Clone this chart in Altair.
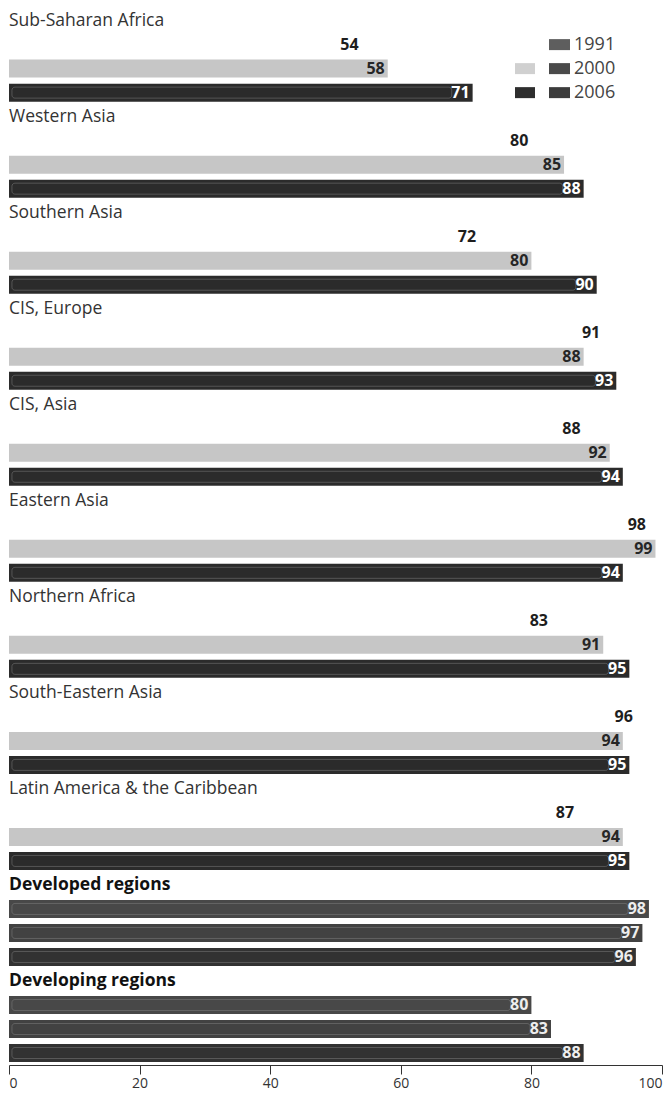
import altair as alt
import pandas as pd

# ---------------- data ----------------
regions = [
    "Sub-Saharan Africa", "Western Asia", "Southern Asia", "CIS, Europe",
    "CIS, Asia", "Eastern Asia", "Northern Africa", "South-Eastern Asia",
    "Latin America & the Caribbean", "Developed regions", "Developing regions",
]
years = ["1991", "2000", "2006"]
v1991 = [54, 80, 72, 91, 88, 98, 83, 96, 87, 98, 80]
v2000 = [58, 85, 80, 88, 92, 99, 91, 94, 94, 97, 83]
v2006 = [71, 88, 90, 93, 94, 94, 95, 95, 95, 96, 88]
aggregate_groups = ["Developed regions", "Developing regions"]
axis_ticks = [0, 20, 40, 60, 80, 100]

# ---------------- tables ----------------
values_by_year = {"1991": v1991, "2000": v2000, "2006": v2006}
titles, rows = [], []
for gi, reg in enumerate(regions):
    kind = "agg" if reg in aggregate_groups else "reg"
    titles.append({"pos": 4 * gi, "region": reg, "kind": kind})
    for j, yr in enumerate(years):
        rows.append({
            "pos": 4 * gi + 1 + j,
            "region": reg,
            "year": yr,
            "value": values_by_year[yr][gi],
            "style": f"{kind}-{yr}",
        })
titles_df = pd.DataFrame(titles)
rows_df = pd.DataFrame(rows)

legend_df = pd.DataFrame({
    "pos": [1, 2, 3],
    "year": years,
    "left": ["none", "light", "dark"],
    "right": ["mid", "darkmid", "darkmid2"],
})

# ---------------- style ----------------
FONT = "Open Sans"
TOTAL_W, TOTAL_H = 655, 1082
Y_DOMAIN = [-0.4, 43.5]
BAR_SIZE = 18
INNER_SIZE = 11

styles = ["reg-1991", "reg-2000", "reg-2006", "agg-1991", "agg-2000", "agg-2006"]
bar_colors = ["#ffffff", "#c6c6c6", "#2b2b2b", "#484848", "#424242", "#323232"]
label_colors = ["#1e1e1e", "#262626", "#ffffff", "#eeeeee", "#eeeeee", "#eeeeee"]

x_scale = alt.Scale(domain=[0, 100], nice=False, zero=True)
y_enc = alt.Y("pos:Q", scale=alt.Scale(domain=Y_DOMAIN, reverse=True, nice=False,
                                        zero=False, padding=0), axis=None)

base = alt.Chart(rows_df)

bars = base.transform_filter(alt.datum.style != "reg-1991").mark_bar(
    orient="horizontal", size=BAR_SIZE
).encode(
    x=alt.X("value:Q", scale=x_scale, axis=alt.Axis(
        values=axis_ticks, title=None, grid=False, domainColor="#333333",
        tickColor="#333333", tickSize=9, labelFontSize=14, labelFont=FONT,
        labelColor="#333333", labelPadding=2, labelFlush=True, domainWidth=1,
    )),
    x2=alt.datum(0),
    y=y_enc,
    color=alt.Color("style:N", scale=alt.Scale(domain=styles, range=bar_colors), legend=None),
)

# faint inner outline seen on the dark bars
inner = base.transform_filter(
    (alt.datum.style != "reg-1991") & (alt.datum.style != "reg-2000")
).transform_calculate(
    inner_end="datum.value - 3.2"
).mark_bar(
    orient="horizontal", size=INNER_SIZE, fillOpacity=0, stroke="#8a8a8a",
    strokeWidth=1, strokeOpacity=0.45, cornerRadius=3
).encode(
    x=alt.X("inner_end:Q", scale=x_scale),
    x2=alt.datum(0.45),
    y=y_enc,
)

labels = base.mark_text(
    align="right", baseline="middle", dx=-3, font=FONT, fontSize=16, fontWeight="bold"
).encode(
    x=alt.X("value:Q", scale=x_scale),
    y=y_enc,
    text="value:Q",
    color=alt.Color("style:N", scale=alt.Scale(domain=styles, range=label_colors), legend=None),
)

title_base = alt.Chart(titles_df)
reg_titles = title_base.transform_filter(alt.datum.kind == "reg").mark_text(
    align="left", baseline="middle", font=FONT, fontSize=17.5, color="#333333"
).encode(x=alt.value(0), y=y_enc, text="region:N")
agg_titles = title_base.transform_filter(alt.datum.kind == "agg").mark_text(
    align="left", baseline="middle", font=FONT, fontSize=17.5, fontWeight="bold", color="#111111"
).encode(x=alt.value(0), y=y_enc, text="region:N")

# legend
sw_colors_dom = ["none", "light", "dark", "mid", "darkmid", "darkmid2"]
sw_colors_rng = ["#ffffff", "#d0d0d0", "#2e2e2e", "#5e5e5e", "#4a4a4a", "#3c3c3c"]
leg = alt.Chart(legend_df)
leg_left = leg.transform_filter(alt.datum.left != "none").mark_rect(height=11).encode(
    x=alt.value(506), x2=alt.value(526), y=y_enc,
    color=alt.Color("left:N", scale=alt.Scale(domain=sw_colors_dom, range=sw_colors_rng), legend=None),
)
leg_right = leg.mark_rect(height=11).encode(
    x=alt.value(540), x2=alt.value(561), y=y_enc,
    color=alt.Color("right:N", scale=alt.Scale(domain=sw_colors_dom, range=sw_colors_rng), legend=None),
)
leg_text = leg.mark_text(align="left", baseline="middle", font=FONT, fontSize=18, color="#444444").encode(
    x=alt.value(565), y=y_enc, text="year:N"
)

chart = alt.layer(
    bars, inner, labels, reg_titles, agg_titles, leg_left, leg_right, leg_text
).resolve_scale(color="independent").properties(
    width=TOTAL_W, height=TOTAL_H,
    autosize=alt.AutoSizeParams(type="fit", contains="padding"),
    padding={"left": 0, "top": 3, "right": 0, "bottom": 0},
).configure_view(stroke=None)

chart.save("out.html", embed_options={"renderer": "svg", "actions": False})
